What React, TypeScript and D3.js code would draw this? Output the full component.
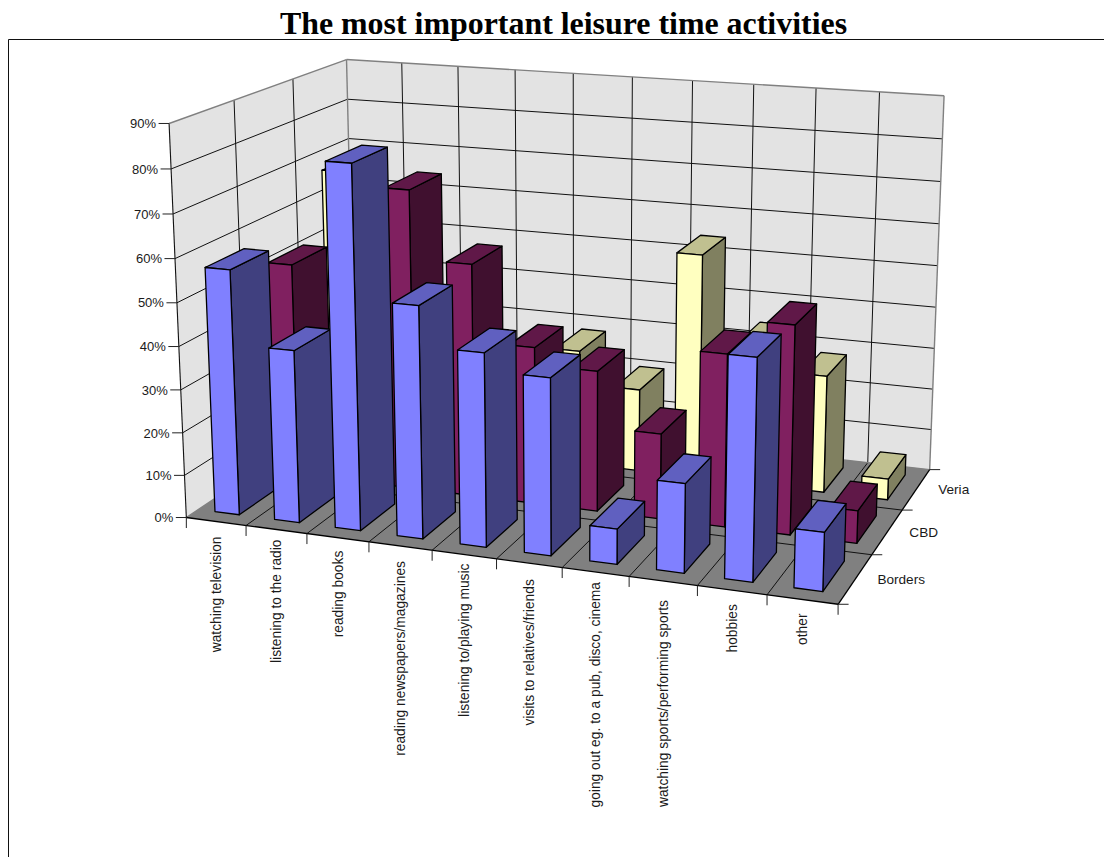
import * as d3 from "d3";

// Survey shares (%) per leisure activity, one array per region.
const categories = [
  "watching television",
  "listening to the radio",
  "reading books",
  "reading newspapers/magazines",
  "listening to/playing music",
  "visits to relatives/friends",
  "going out eg. to a pub, disco, cinema",
  "watching sports/performing sports",
  "hobbies",
  "other",
];
const seriesNames = ["Borders", "CBD", "Veria"];
const borders = [57, 40, 83, 53, 44, 40, 8, 20, 49, 13];
const cbd = [51, 30, 71, 55, 37, 33, 20, 40, 48, 7.5];
const veria = [67, 40, 35, 24, 28, 20, 54, 34, 28, 5];
const yTicks = d3.range(0, 100, 10);

const W = 1104;
const H = 857;

type P = [number, number];

// Camera calibration: box coordinates (u along categories, v into depth, t up) and
// where those frame points sit on the page.
const frameAnchors: [number, number, number, number, number][] = [
  [0, 0, 0, 187, 518], [0, 0, 1 / 9, 184.5, 475], [0, 0, 2 / 9, 182.5, 432], [0, 0, 3 / 9, 181, 389],
  [0, 0, 4 / 9, 179, 346], [0, 0, 5 / 9, 177.5, 302], [0, 0, 6 / 9, 175, 259], [0, 0, 7 / 9, 173, 214],
  [0, 0, 8 / 9, 171, 169], [0, 0, 1, 169, 123],
  [0.1, 0, 0, 246, 526], [0.2, 0, 0, 307, 534], [0.3, 0, 0, 369, 543], [0.4, 0, 0, 432, 551],
  [0.5, 0, 0, 496, 559], [0.6, 0, 0, 562, 567], [0.7, 0, 0, 629, 577], [0.8, 0, 0, 696, 585],
  [0.9, 0, 0, 768, 595], [1, 0, 0, 838, 604],
  [1, 1 / 3, 0, 872, 554], [1, 2 / 3, 0, 903, 511], [1, 1, 0, 930, 470],
  [1, 1, 1 / 9, 931, 429], [1, 1, 2 / 9, 932, 389], [1, 1, 3 / 9, 934, 347], [1, 1, 4 / 9, 936, 307],
  [1, 1, 5 / 9, 937, 266], [1, 1, 6 / 9, 939, 224], [1, 1, 7 / 9, 941, 181], [1, 1, 8 / 9, 942, 139],
  [1, 1, 1, 945, 96],
  [0, 1, 1, 346, 59], [0.1, 1, 1, 402, 63], [0.2, 1, 1, 458, 66], [0.3, 1, 1, 515, 70], [0.4, 1, 1, 573, 73],
  [0.5, 1, 1, 632, 77], [0.6, 1, 1, 693, 81], [0.7, 1, 1, 754, 85], [0.8, 1, 1, 817, 88], [0.9, 1, 1, 879, 92],
  [0, 1, 8 / 9, 347.5, 99], [0, 1, 7 / 9, 349, 139],
  [0, 1 / 3, 1, 234, 101], [0, 2 / 3, 1, 292, 79],
];

// Least-squares fit of a 3x4 projection with its last term fixed at 1.
function fitCamera(): number[] {
  const n = 11;
  const A: number[][] = d3.range(n).map(() => d3.range(n + 1).map(() => 0));
  const addRow = (row: number[], rhs: number) => {
    for (let i = 0; i < n; i++) {
      for (let j = 0; j < n; j++) A[i][j] += row[i] * row[j];
      A[i][n] += row[i] * rhs;
    }
  };
  for (const [u, v, t, sx, sy] of frameAnchors) {
    const x = sx / 1000;
    const y = sy / 1000;
    addRow([u, v, t, 1, 0, 0, 0, 0, -x * u, -x * v, -x * t], x);
    addRow([0, 0, 0, 0, u, v, t, 1, -y * u, -y * v, -y * t], y);
  }
  for (let c = 0; c < n; c++) {
    let best = c;
    for (let r = c + 1; r < n; r++) if (Math.abs(A[r][c]) > Math.abs(A[best][c])) best = r;
    [A[c], A[best]] = [A[best], A[c]];
    for (let r = 0; r < n; r++) {
      if (r === c) continue;
      const f = A[r][c] / A[c][c];
      for (let k = c; k <= n; k++) A[r][k] -= f * A[c][k];
    }
  }
  return d3.range(n).map((i) => A[i][n] / A[i][i]);
}
const cam = fitCamera();

function project(u: number, v: number, t: number): P {
  const w = cam[8] * u + cam[9] * v + cam[10] * t + 1;
  return [
    (1000 * (cam[0] * u + cam[1] * v + cam[2] * t + cam[3])) / w,
    (1000 * (cam[4] * u + cam[5] * v + cam[6] * t + cam[7])) / w,
  ];
}

const xScale = d3.scaleLinear().domain([0, categories.length]).range([0, 1]);
const zScale = d3.scaleLinear().domain([0, seriesNames.length]).range([0, 1]);
const yScale = d3.scaleLinear().domain([0, 90]).range([0, 1]);
const pt = (cat: number, ser: number, val: number) =>
  project(xScale(cat), zScale(ser), yScale(val));

const poly = d3.line<P>().curve(d3.curveLinearClosed);
const seg = (a: P, b: P) => d3.line<P>()([a, b]) as string;

const BAR_L = 0.28;
const BAR_R = 0.69;
const DEPTH_F = 0.19;
const DEPTH_B = 0.81;

const seriesData = [
  { values: borders, face: "#8080ff", side: "#40407f", top: "#6060c0" },
  { values: cbd, face: "#802060", side: "#40102f", top: "#601848" },
  { values: veria, face: "#ffffc0", side: "#808060", top: "#c0c090" },
];

// Extra gap between the front axis and each rotated category label.
const categoryLabelDrop = [15, 10, 13, 15, 9, 16, 10, 19, 14, 14];

const Bar = ({ cat, ser }: { cat: number; ser: number }) => {
  const s = seriesData[ser];
  const val = s.values[cat];
  const l = cat + BAR_L, r = cat + BAR_R;
  const f = ser + DEPTH_F, b = ser + DEPTH_B;
  const sw = { stroke: "#000", strokeWidth: 1.3, strokeLinejoin: "round" as const };
  return (
    <g>
      <path d={poly([pt(r, f, 0), pt(r, b, 0), pt(r, b, val), pt(r, f, val)]) as string} fill={s.side} {...sw} />
      <path d={poly([pt(l, f, val), pt(r, f, val), pt(r, b, val), pt(l, b, val)]) as string} fill={s.top} {...sw} />
      <path d={poly([pt(l, f, 0), pt(r, f, 0), pt(r, f, val), pt(l, f, val)]) as string} fill={s.face} {...sw} />
    </g>
  );
};

export default function App() {
  const nC = categories.length;
  const nS = seriesNames.length;
  const font = "'Liberation Sans', Arial, sans-serif";
  const grid = { stroke: "#111", strokeWidth: 1, fill: "none" };
  const edge = { stroke: "#808080", strokeWidth: 1.4, fill: "none" };
  const tick = { stroke: "#222", strokeWidth: 1 };
  const textColor = "#1a1a1a";

  return (
    <svg
      width={W}
      height={H}
      viewBox={`0 0 ${W} ${H}`}
      style={{ position: "absolute", left: 0, top: 0, display: "block", background: "#fff" }}
    >
      <text
        x={563.5}
        y={33.5}
        textAnchor="middle"
        fontFamily="'Liberation Serif', 'Times New Roman', serif"
        fontWeight="bold"
        fontSize={31.9}
        fill="#000"
      >
        The most important leisure time activities
      </text>
      <path d={`M8.5 ${H}V39.5H${W}`} fill="none" stroke="#111" strokeWidth={1} />

      {/* Walls and floor */}
      <path d={poly([pt(0, nS, 0), pt(nC, nS, 0), pt(nC, nS, 90), pt(0, nS, 90)]) as string} fill="#e3e3e3" />
      <path d={poly([pt(0, 0, 0), pt(0, nS, 0), pt(0, nS, 90), pt(0, 0, 90)]) as string} fill="#e3e3e3" />
      <path d={poly([pt(0, 0, 0), pt(nC, 0, 0), pt(nC, nS, 0), pt(0, nS, 0)]) as string} fill="#808080" />

      {/* Wall and floor grid */}
      {yTicks.slice(1, -1).map((v) => (
        <g key={v}>
          <path d={seg(pt(0, 0, v), pt(0, nS, v))} {...grid} />
          <path d={seg(pt(0, nS, v), pt(nC, nS, v))} {...grid} />
        </g>
      ))}
      {d3.range(1, nC).map((c) => (
        <g key={c}>
          <path d={seg(pt(c, nS, 0), pt(c, nS, 90))} {...grid} />
          <path d={seg(pt(c, 0, 0), pt(c, nS, 0))} {...grid} />
        </g>
      ))}
      {d3.range(1, nS).map((s) => (
        <g key={s}>
          <path d={seg(pt(0, s, 0), pt(0, s, 90))} {...grid} />
          <path d={seg(pt(0, s, 0), pt(nC, s, 0))} {...grid} />
        </g>
      ))}
      <path d={seg(pt(0, 0, 90), pt(0, nS, 90))} {...edge} />
      <path d={seg(pt(0, nS, 90), pt(nC, nS, 90))} {...edge} />
      <path d={seg(pt(0, nS, 0), pt(0, nS, 90))} {...edge} />
      <path d={seg(pt(nC, nS, 0), pt(nC, nS, 90))} {...edge} />
      <path d={seg(pt(0, nS, 0), pt(nC, nS, 0))} {...edge} />
      <path d={seg(pt(0, 0, 0), pt(0, nS, 0))} {...edge} />

      {/* Axes */}
      <path d={seg(pt(0, 0, 0), pt(0, 0, 90))} fill="none" stroke="#111" strokeWidth={1.1} />
      <path d={seg(pt(0, 0, 0), pt(nC, 0, 0))} fill="none" stroke="#000" strokeWidth={1.3} />
      <path d={seg(pt(nC, 0, 0), pt(nC, nS, 0))} fill="none" stroke="#000" strokeWidth={1.3} />

      {yTicks.map((v) => {
        const [x, y] = pt(0, 0, v);
        return (
          <g key={v}>
            <line x1={x - 10.5} x2={x} y1={y} y2={y} {...tick} />
            <text x={x - 13} y={y} dy="0.36em" textAnchor="end" fontFamily={font} fontSize={13} fill={textColor}>
              {v}%
            </text>
          </g>
        );
      })}
      {d3.range(0, nC + 1).map((c) => {
        const [x, y] = pt(c, 0, 0);
        return <line key={c} x1={x} x2={x} y1={y} y2={y + 10.5} {...tick} />;
      })}
      {d3.range(0, nS + 1).map((s) => {
        const [x, y] = pt(nC, s, 0);
        return <line key={s} x1={x} x2={x + 10.5} y1={y} y2={y} {...tick} />;
      })}

      {categories.map((name, c) => {
        const [x, y] = pt(c + 0.5, 0, 0);
        return (
          <text
            key={name}
            transform={`translate(${x},${y + categoryLabelDrop[c]}) rotate(-90)`}
            dy="0.36em"
            textAnchor="end"
            fontFamily={font}
            fontSize={13.8}
            fill={textColor}
          >
            {name}
          </text>
        );
      })}
      {seriesNames.map((name, s) => {
        const [x, y] = pt(nC, s + 0.5, 0);
        return (
          <text key={name} x={x + 22} y={y} dy="0.36em" fontFamily={font} fontSize={13.6} fill={textColor}>
            {name}
          </text>
        );
      })}

      {/* Bars, painted from the far row forward and left to right */}
      {d3.range(nS - 1, -1, -1).map((s) => (
        <g key={s}>
          {d3.range(0, nC).map((c) => (
            <Bar key={c} cat={c} ser={s} />
          ))}
        </g>
      ))}
    </svg>
  );
}
